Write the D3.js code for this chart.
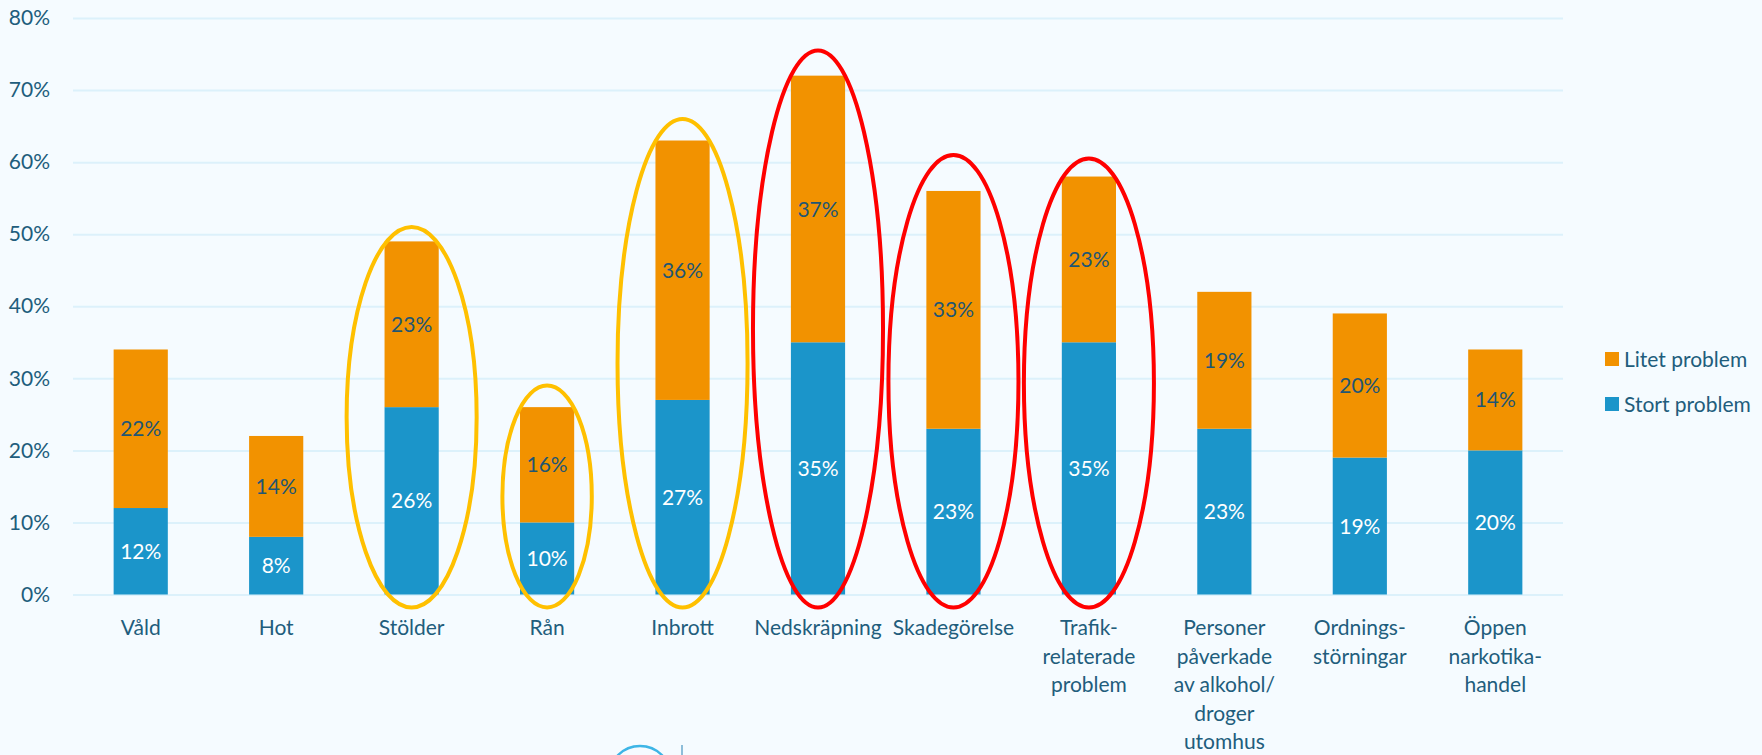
<!DOCTYPE html>
<html>
<head>
<meta charset="utf-8">
<script src="https://cdn.jsdelivr.net/npm/d3@7"></script>
<style>
  body { margin: 0; background: #f5fbff; }
  svg { display: block; font-family: Lato, "Open Sans", sans-serif; }
</style>
</head>
<body>
<svg width="1762" height="755"></svg>
<script>
// categories (x axis), split on the lines shown in the picture
var categories = ["Våld", "Hot", "Stölder", "Rån", "Inbrott", "Nedskräpning", "Skadegörelse",
    "Trafik-relaterade problem", "Personer påverkade av alkohol/droger utomhus",
    "Ordnings-störningar", "Öppen narkotika-handel"];
var categoryLines = [["Våld"], ["Hot"], ["Stölder"], ["Rån"], ["Inbrott"], ["Nedskräpning"], ["Skadegörelse"],
    ["Trafik-", "relaterade", "problem"],
    ["Personer", "påverkade", "av alkohol/", "droger", "utomhus"],
    ["Ordnings-", "störningar"],
    ["Öppen", "narkotika-", "handel"]];

// series, in percent
var stortProblem = [12, 8, 26, 10, 27, 35, 23, 35, 23, 19, 20];
var litetProblem = [22, 14, 23, 16, 36, 37, 33, 23, 19, 20, 14];
var seriesNames = ["Stort problem", "Litet problem"];

var yTicks = [0, 10, 20, 30, 40, 50, 60, 70, 80];

// hand-drawn rings in the picture
var yellowRings = ["Stölder", "Rån", "Inbrott"];
var redRings = ["Nedskräpning", "Skadegörelse", "Trafik-relaterade problem"];
var ringTop = {"Stölder": 51, "Rån": 29, "Inbrott": 66, "Nedskräpning": 75.5, "Skadegörelse": 61, "Trafik-relaterade problem": 60.5};

var svg = d3.select("svg");
var colors = {"Stort problem": "#1b95ca", "Litet problem": "#f29200"};
var textColor = "#215d7c";

var x = d3.scaleBand()
    .domain(categories)
    .range([73, 1563])
    .paddingInner(0.6)
    .paddingOuter(0.3);

var y = d3.scaleLinear()
    .domain([0, 80])
    .range([594.5, 18]);

// grid + y labels
var yAxis = svg.append("g")
    .attr("transform", "translate(73,0)")
    .call(d3.axisLeft(y)
        .tickValues(yTicks)
        .tickSize(-(1563 - 73))
        .tickPadding(23)
        .tickFormat(function (d) { return d + "%"; }));
yAxis.select(".domain").remove();
yAxis.selectAll("line").attr("stroke", "#dcf1fb").attr("stroke-width", 2);
yAxis.selectAll("text")
    .attr("fill", textColor)
    .style("font-size", "21px")
    .style("font-family", "Lato, sans-serif");

// stacked bars
var rows = categories.map(function (c, i) {
    return {cat: c, "Stort problem": stortProblem[i], "Litet problem": litetProblem[i]};
});
var stacked = d3.stack().keys(seriesNames)(rows);

var layers = svg.append("g").selectAll("g")
    .data(stacked)
    .enter().append("g")
    .attr("fill", function (d) { return colors[d.key]; });

layers.selectAll("rect")
    .data(function (d) { return d; })
    .enter().append("rect")
    .attr("x", function (d) { return x(d.data.cat); })
    .attr("y", function (d) { return y(d[1]); })
    .attr("width", x.bandwidth())
    .attr("height", function (d) { return y(d[0]) - y(d[1]); });

// value labels
stacked.forEach(function (layer) {
    svg.append("g").selectAll("text")
        .data(layer)
        .enter().append("text")
        .attr("x", function (d) { return x(d.data.cat) + x.bandwidth() / 2; })
        .attr("y", function (d) { return (y(d[0]) + y(d[1])) / 2; })
        .attr("dy", "0.36em")
        .attr("text-anchor", "middle")
        .attr("fill", layer.key == "Stort problem" ? "#ffffff" : "#1f5673")
        .style("font-size", "21px")
        .text(function (d) { return (d[1] - d[0]) + "%"; });
});

// category labels
var catLabels = svg.append("g").selectAll("text")
    .data(categories)
    .enter().append("text")
    .attr("text-anchor", "middle")
    .attr("fill", textColor)
    .style("font-size", "21px");
catLabels.each(function (c, i) {
    var t = d3.select(this);
    categoryLines[i].forEach(function (line, j) {
        t.append("tspan")
            .attr("x", x(c) + x.bandwidth() / 2)
            .attr("y", 635 + j * 28.5)
            .text(line);
    });
});

// rings
function drawRings(list, color) {
    svg.append("g").selectAll("ellipse")
        .data(list)
        .enter().append("ellipse")
        .attr("cx", function (c) { return x(c) + x.bandwidth() / 2; })
        .attr("cy", function (c) { return (y(ringTop[c]) + y(-1.8)) / 2; })
        .attr("rx", function (c) { return c == "Rån" ? x.step() * 0.33 : x.step() * 0.48; })
        .attr("ry", function (c) { return (y(-1.8) - y(ringTop[c])) / 2; })
        .attr("fill", "none")
        .attr("stroke", color)
        .attr("stroke-width", 4);
}
drawRings(yellowRings, "#ffc000");
drawRings(redRings, "#ff0000");

// legend
var legendOrder = ["Litet problem", "Stort problem"];
var legend = svg.append("g").selectAll("g")
    .data(legendOrder)
    .enter().append("g")
    .attr("transform", function (d, i) { return "translate(1605," + (352 + i * 45) + ")"; });
legend.append("rect")
    .attr("width", 14).attr("height", 14)
    .attr("fill", function (d) { return colors[d]; });
legend.append("text")
    .attr("x", 19).attr("y", 15)
    .attr("fill", textColor)
    .style("font-size", "21px")
    .text(function (d) { return d; });

// bit of a logo cut off at the bottom
svg.append("circle")
    .attr("cx", 640).attr("cy", 777).attr("r", 31)
    .attr("fill", "none").attr("stroke", "#3db5e6").attr("stroke-width", 2.5);
svg.append("line")
    .attr("x1", 682).attr("x2", 682).attr("y1", 745).attr("y2", 755)
    .attr("stroke", "#6aa9cc").attr("stroke-width", 1.5);
</script>
</body>
</html>
